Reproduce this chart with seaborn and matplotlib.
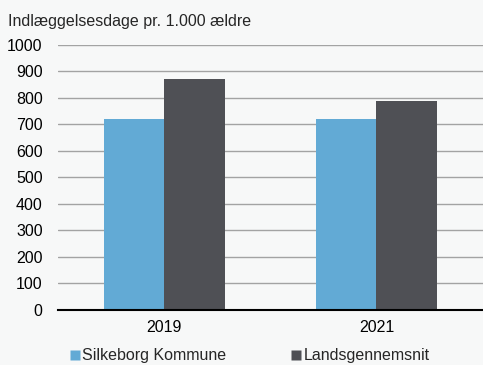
import pandas as pd
import matplotlib.pyplot as plt
import seaborn as sns

years = ['2019', '2021']
silkeborg = [722, 720]
landsgennemsnit = [872, 789]
series_names = ['Silkeborg Kommune', 'Landsgennemsnit']
colors = ['#62aad5', '#4f5055']

df = pd.DataFrame({
    'year': years * 2,
    'value': silkeborg + landsgennemsnit,
    'series': [series_names[0]] * 2 + [series_names[1]] * 2,
})

sns.set_style('white')
plt.rcParams['font.family'] = ['Liberation Sans', 'DejaVu Sans']
fs = 11.5

bg = '#f7f8f8'
fig = plt.figure(figsize=(4.83, 3.65), dpi=100, facecolor=bg)
ax = fig.add_axes([0.12, 0.151, 0.879, 0.726], facecolor=bg)

sns.barplot(data=df, x='year', y='value', hue='series', palette=colors,
            width=0.57, saturation=1, ax=ax, legend=False, zorder=3,
            edgecolor='none')

ax.set_ylim(0, 1000)
ax.set_xlim(-0.5, 1.5)
ax.set_yticks(range(0, 1001, 100))
ax.yaxis.grid(True, color='#a3a3a3', linewidth=1, zorder=0)
ax.set_axisbelow(True)
for s in ['left', 'right', 'top']:
    ax.spines[s].set_visible(False)
ax.spines['bottom'].set_color('black')
ax.spines['bottom'].set_linewidth(1.5)
ax.spines['bottom'].set_zorder(4)
ax.set_xlabel('')
ax.set_ylabel('')
ax.tick_params(axis='y', length=0, pad=11, labelsize=fs, colors='black')
ax.tick_params(axis='x', which='major', length=0, pad=7, labelsize=fs, colors='black')
ax.set_xticks([-0.5, 0.5, 1.5], minor=True)
ax.tick_params(axis='x', which='minor', length=4, width=1.5, color='black', direction='out')

fig.text(0.017, 0.942, 'Indlæggelsesdage pr. 1.000 ældre', fontsize=fs, va='center')

handles = [plt.Line2D([], [], marker='s', linestyle='none', markersize=6.5,
                      markerfacecolor=c, markeredgecolor='none') for c in colors]
fig.legend(handles[:1], series_names[:1], loc='center left', bbox_to_anchor=(0.124, 0.025),
           frameon=False, handletextpad=0.0, fontsize=fs, borderpad=0, handlelength=0.9)
fig.legend(handles[1:], series_names[1:], loc='center left', bbox_to_anchor=(0.582, 0.025),
           frameon=False, handletextpad=0.0, fontsize=fs, borderpad=0, handlelength=0.9)

fig.savefig('out.png', dpi=100, facecolor=bg)
